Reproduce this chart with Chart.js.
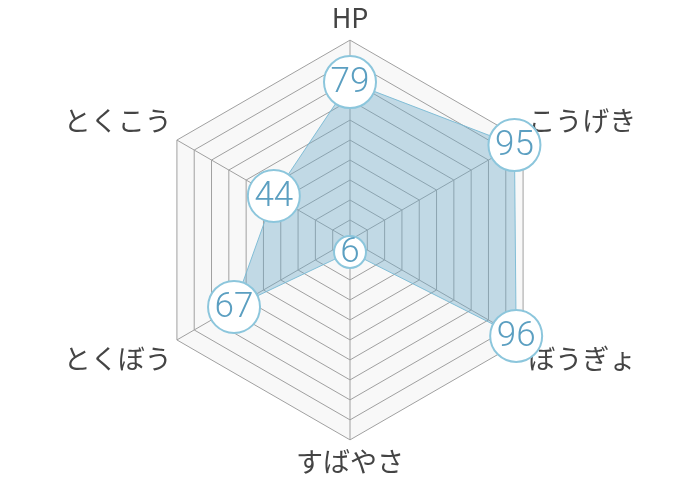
<!DOCTYPE html>
<html lang="ja">
<head>
<meta charset="utf-8">
<script src="https://cdn.jsdelivr.net/npm/chart.js@4.4.0/dist/chart.umd.min.js"></script>
<style>
  html, body { margin: 0; padding: 0; background: #fff; }
  #wrap { width: 700px; height: 480px; }
</style>
</head>
<body>
<div id="wrap"><canvas id="statChart"></canvas></div>
<script>
const statLabels = ['HP', 'こうげき', 'ぼうぎょ', 'すばやさ', 'とくぼう', 'とくこう'];
const statValues = [79, 95, 96, 6, 67, 44];

// draw the number inside each point circle
const valueLabels = {
  id: 'valueLabels',
  afterDatasetsDraw(chart) {
    const ctx = chart.ctx;
    const meta = chart.getDatasetMeta(0);
    ctx.save();
    ctx.fillStyle = '#5b9fc1';
    ctx.font = '300 35px Roboto, "Noto Sans", sans-serif';
    ctx.textAlign = 'center';
    ctx.textBaseline = 'middle';
    meta.data.forEach((pt, i) => {
      ctx.fillText(String(statValues[i]), pt.x, pt.y + 1);
    });
    ctx.restore();
  }
};

new Chart(document.getElementById('statChart'), {
  type: 'radar',
  data: {
    labels: statLabels,
    datasets: [{
      data: statValues,
      backgroundColor: 'rgba(110, 170, 200, 0.4)',
      borderColor: 'rgba(120, 185, 212, 0.9)',
      borderWidth: 1,
      pointBackgroundColor: '#ffffff',
      pointBorderColor: '#8cc6dc',
      pointBorderWidth: 2,
      pointRadius: c => String(statValues[c.dataIndex]).length > 1 ? 26 : 16,
      pointHoverRadius: c => String(statValues[c.dataIndex]).length > 1 ? 26 : 16
    }]
  },
  options: {
    responsive: true,
    maintainAspectRatio: false,
    animation: false,
    layout: { padding: { top: 2, bottom: 2 } },
    plugins: {
      legend: { display: false },
      tooltip: { enabled: false }
    },
    scales: {
      r: {
        min: 0,
        max: 100,
        backgroundColor: '#f8f8f8',
        ticks: { display: false, stepSize: 10 },
        grid: { color: '#a0a0a0', lineWidth: 1 },
        angleLines: { color: '#a0a0a0', lineWidth: 1 },
        pointLabels: {
          color: '#444',
          padding: 6,
          font: { size: 27, lineHeight: 1.19, family: '"Noto Sans CJK JP", "Noto Sans", sans-serif' }
        }
      }
    }
  },
  plugins: [valueLabels]
});
</script>
</body>
</html>
